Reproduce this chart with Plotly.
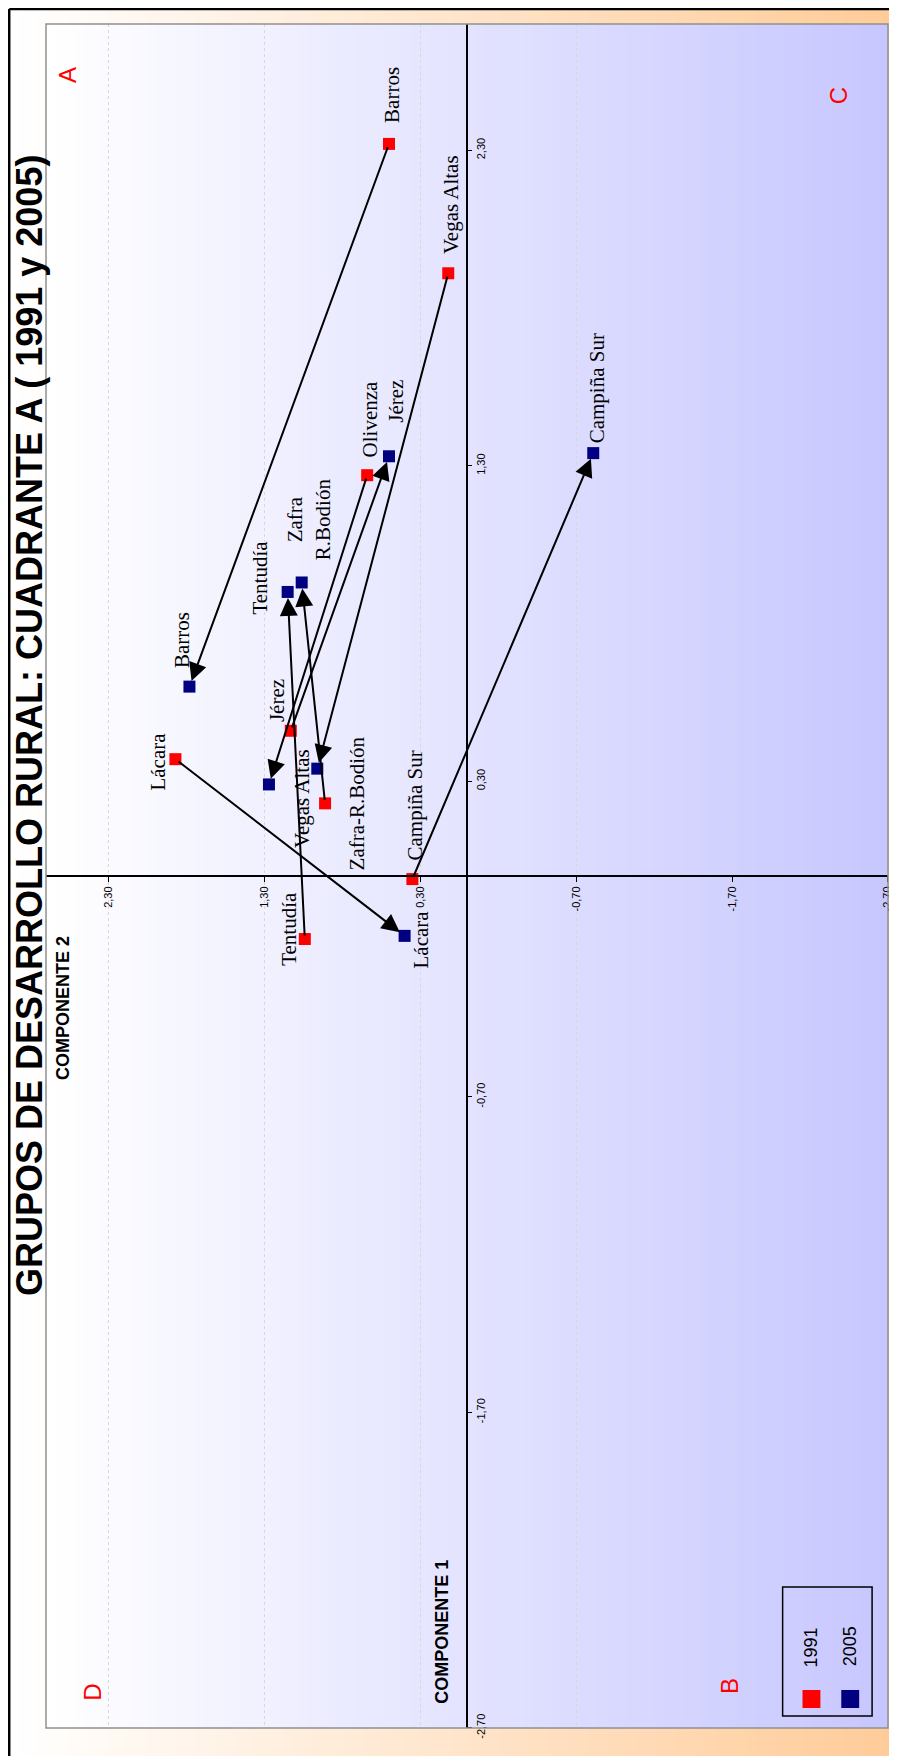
import plotly.graph_objects as go

# ---------------- data ----------------
regions = ["Barros", "Vegas Altas", "Olivenza", "Jérez", "Lácara",
           "Zafra-R.Bodión", "Campiña Sur", "Tentudía"]
comp2_1991 = [0.50, 0.12, 0.64, 1.13, 1.87, 0.91, 0.35, 1.04]
comp1_1991 = [2.32, 1.91, 1.27, 0.46, 0.37, 0.23, -0.01, -0.20]
comp2_2005 = [1.78, 0.96, 1.27, 0.50, 0.40, 1.06, -0.81, 1.15]
comp1_2005 = [0.60, 0.34, 0.29, 1.33, -0.19, 0.93, 1.34, 0.90]
labels_1991 = ["Barros", "Vegas Altas", "Olivenza", "Jérez", "Lácara",
               "Zafra-R.Bodión", "Campiña Sur", "Tentudía"]
labels_2005 = ["Barros", "Vegas Altas", "", "Jérez", "Lácara",
               "Zafra<br>R.Bodión", "Campiña Sur", "Tentudía"]
tick_vals = [2.30, 1.30, 0.30, -0.70, -1.70, -2.70]
tick_text = ["2,30", "1,30", "0,30", "-0,70", "-1,70", "-2,70"]
series_names = ["1991", "2005"]
quadrants = ["A", "B", "C", "D"]
title_text = "GRUPOS DE DESARROLLO RURAL: CUADRANTE A ( 1991 y 2005)"

# ---------------- styles / placement ----------------
OFF = 8                      # page body margin
W, H = 897 - OFF, 1756 - OFF
ML, MR, MT, MB = 46 - OFF, 4, 24 - OFF, 28
PW, PH = W - ML - MR, H - MT - MB
RED, BLUE = "#FF0000", "#000080"

def px(xp):                  # page pixel -> paper x
    return (xp - OFF - ML) / PW

def py(yp):                  # page pixel -> paper y
    return (H - MB - (yp - OFF)) / PH

# label placement: (side, gap px, offset px)
place_1991 = {"Barros": ("above", 20, 3), "Vegas Altas": ("above", 18, 3),
              "Olivenza": ("above", 17, 3), "Jérez": ("above", 8, -13),
              "Lácara": ("left", 4, 2), "Zafra-R.Bodión": ("right", 19, 0),
              "Campiña Sur": ("above", 18, 3), "Tentudía": ("left", 3, -10)}
place_2005 = {"Barros": ("above", 18, -8), "Vegas Altas": ("left", 3, 30),
              "Jérez": ("above", 32, 7), "Lácara": ("right", 3, 4),
              "Zafra<br>R.Bodión": ("above", 21, 7), "Campiña Sur": ("above", 9, 4),
              "Tentudía": ("left", 15, -14)}

fig = go.Figure()

fig.add_trace(go.Scatter(x=comp2_1991, y=comp1_1991, mode="markers", name=series_names[0],
                         marker=dict(symbol="square", size=12, color=RED, line=dict(width=0)),
                         showlegend=False, hoverinfo="skip"))
fig.add_trace(go.Scatter(x=comp2_2005, y=comp1_2005, mode="markers", name=series_names[1],
                         marker=dict(symbol="square", size=12, color=BLUE, line=dict(width=0)),
                         showlegend=False, hoverinfo="skip"))

shapes = []
# outer (paper) gradient white -> orange
N = 90
ox0, ox1 = px(OFF), px(897 + 2)
oy0, oy1 = py(1756 + 2), py(OFF)
for i in range(N):
    f = i / (N - 1)
    c = "rgb(255,%d,%d)" % (round(255 - 51 * f), round(255 - 102 * f))
    a = ox0 + (ox1 - ox0) * i / N
    b = ox0 + (ox1 - ox0) * (i + 1) / N + 0.002
    shapes.append(dict(type="rect", xref="paper", yref="paper", x0=a, x1=b, y0=oy0, y1=oy1,
                       fillcolor=c, line=dict(width=0), layer="below"))
# plot area gradient white -> lavender
for i in range(N):
    f = i / (N - 1)
    v = round(255 - 56 * f)
    c = "rgb(%d,%d,255)" % (v, v)
    a = i / N
    b = min(1.0, (i + 1) / N + 0.002)
    shapes.append(dict(type="rect", xref="paper", yref="paper", x0=a, x1=b, y0=0, y1=1,
                       fillcolor=c, line=dict(width=0), layer="below"))
# outer black frame (left + top)
shapes.append(dict(type="line", xref="paper", yref="paper", x0=px(OFF + 1), x1=px(OFF + 1),
                   y0=py(1756 + 2), y1=py(OFF + 1), line=dict(color="black", width=2.5), layer="above"))
shapes.append(dict(type="line", xref="paper", yref="paper", x0=px(OFF + 1), x1=px(897 + 2),
                   y0=py(OFF + 1), y1=py(OFF + 1), line=dict(color="black", width=2.5), layer="above"))
# plot area border
shapes.append(dict(type="rect", xref="paper", yref="paper", x0=0, x1=1, y0=0, y1=1,
                   line=dict(color="#909090", width=1.5), fillcolor="rgba(0,0,0,0)", layer="above"))
# legend box and swatches
shapes.append(dict(type="rect", xref="paper", yref="paper", x0=px(787), x1=px(877), y0=py(1716), y1=py(1587),
                   line=dict(color="black", width=1.5), fillcolor="rgba(0,0,0,0)", layer="above"))
for cx, col in [(816, RED), (855, BLUE)]:
    shapes.append(dict(type="rect", xref="paper", yref="paper", x0=px(cx - 9), x1=px(cx + 9),
                       y0=py(1708), y1=py(1690), line=dict(width=0), fillcolor=col, layer="above"))

annotations = []
# arrows 1991 -> 2005
for i in range(len(regions)):
    annotations.append(dict(x=comp2_2005[i], y=comp1_2005[i], ax=comp2_1991[i], ay=comp1_1991[i],
                            xref="x", yref="y", axref="x", ayref="y", text="", showarrow=True,
                            arrowhead=2, arrowsize=1.8, arrowwidth=2, arrowcolor="black",
                            standoff=6, startstandoff=2))

label_font = dict(family="Liberation Serif, Times New Roman, serif", size=21, color="black")

def add_label(x, y, text, spec):
    side, gap, off = spec
    d = dict(x=x, y=y, xref="x", yref="y", text=text, showarrow=False, textangle=-90,
             font=label_font, align="center", borderpad=0)
    if side == "above":
        d.update(xanchor="center", yanchor="bottom", xshift=off, yshift=gap)
    elif side == "left":
        d.update(xanchor="right", yanchor="middle", xshift=-gap, yshift=-off)
    else:
        d.update(xanchor="left", yanchor="middle", xshift=gap, yshift=-off)
    annotations.append(d)

for i in range(len(regions)):
    add_label(comp2_1991[i], comp1_1991[i], labels_1991[i], place_1991[labels_1991[i]])
    if labels_2005[i]:
        add_label(comp2_2005[i], comp1_2005[i], labels_2005[i], place_2005[labels_2005[i]])

sans = "Liberation Sans, Arial, sans-serif"
# title
annotations.append(dict(x=px(29), y=py(725), xref="paper", yref="paper", text="<b>" + title_text + "</b>",
                        showarrow=False, textangle=-90, xanchor="center", yanchor="middle", borderpad=0,
                        font=dict(family=sans, size=36, color="black")))
# axis titles
annotations.append(dict(x=px(63), y=py(1008), xref="paper", yref="paper", text="<b>COMPONENTE 2</b>",
                        showarrow=False, textangle=-90, xanchor="center", yanchor="middle",
                        font=dict(family=sans, size=18, color="black")))
annotations.append(dict(x=px(444), y=py(1632), xref="paper", yref="paper", text="<b>COMPONENTE 1</b>",
                        showarrow=False, textangle=-90, xanchor="center", yanchor="middle",
                        font=dict(family=sans, size=18, color="black")))
# quadrant letters
for q, (qx, qy) in zip(quadrants, [(67, 75), (733, 1686), (843, 96), (92, 1692)]):
    annotations.append(dict(x=px(qx), y=py(qy), xref="paper", yref="paper", text=q, showarrow=False,
                            textangle=-90, xanchor="center", yanchor="middle",
                            font=dict(family=sans, size=24, color=RED)))
# legend texts
for name, (lx, ly) in zip(series_names, [(816, 1647), (855, 1646)]):
    annotations.append(dict(x=px(lx), y=py(ly), xref="paper", yref="paper", text=name, showarrow=False,
                            textangle=-90, xanchor="center", yanchor="middle",
                            font=dict(family=sans, size=18, color="black")))

tickfont = dict(family=sans, size=11, color="black")
fig.update_layout(
    width=W, height=H, autosize=False,
    margin=dict(l=ML, r=MR, t=MT, b=MB, pad=0),
    paper_bgcolor="white", plot_bgcolor="rgba(0,0,0,0)",
    shapes=shapes, annotations=annotations, showlegend=False,
    xaxis=dict(range=[2.7, -2.7005], tickvals=tick_vals, ticktext=tick_text, tickangle=-90,
               anchor="free", position=0.5, side="bottom", showline=True, linecolor="black",
               linewidth=2, ticks="outside", ticklen=5, tickcolor="black", tickwidth=1,
               showgrid=True, gridcolor="#D8D8D8", griddash="dot", gridwidth=1,
               zeroline=False, tickfont=tickfont, ticklabeloverflow="allow"),
    yaxis=dict(range=[-2.7005, 2.7], tickvals=tick_vals, ticktext=tick_text, tickangle=-90,
               anchor="free", position=0.5, side="right", showline=True, linecolor="black",
               linewidth=2, ticks="outside", ticklen=4, tickcolor="black", tickwidth=1,
               showgrid=False, zeroline=False, tickfont=tickfont, ticklabeloverflow="allow"),
)

fig.write_html("out.html")
